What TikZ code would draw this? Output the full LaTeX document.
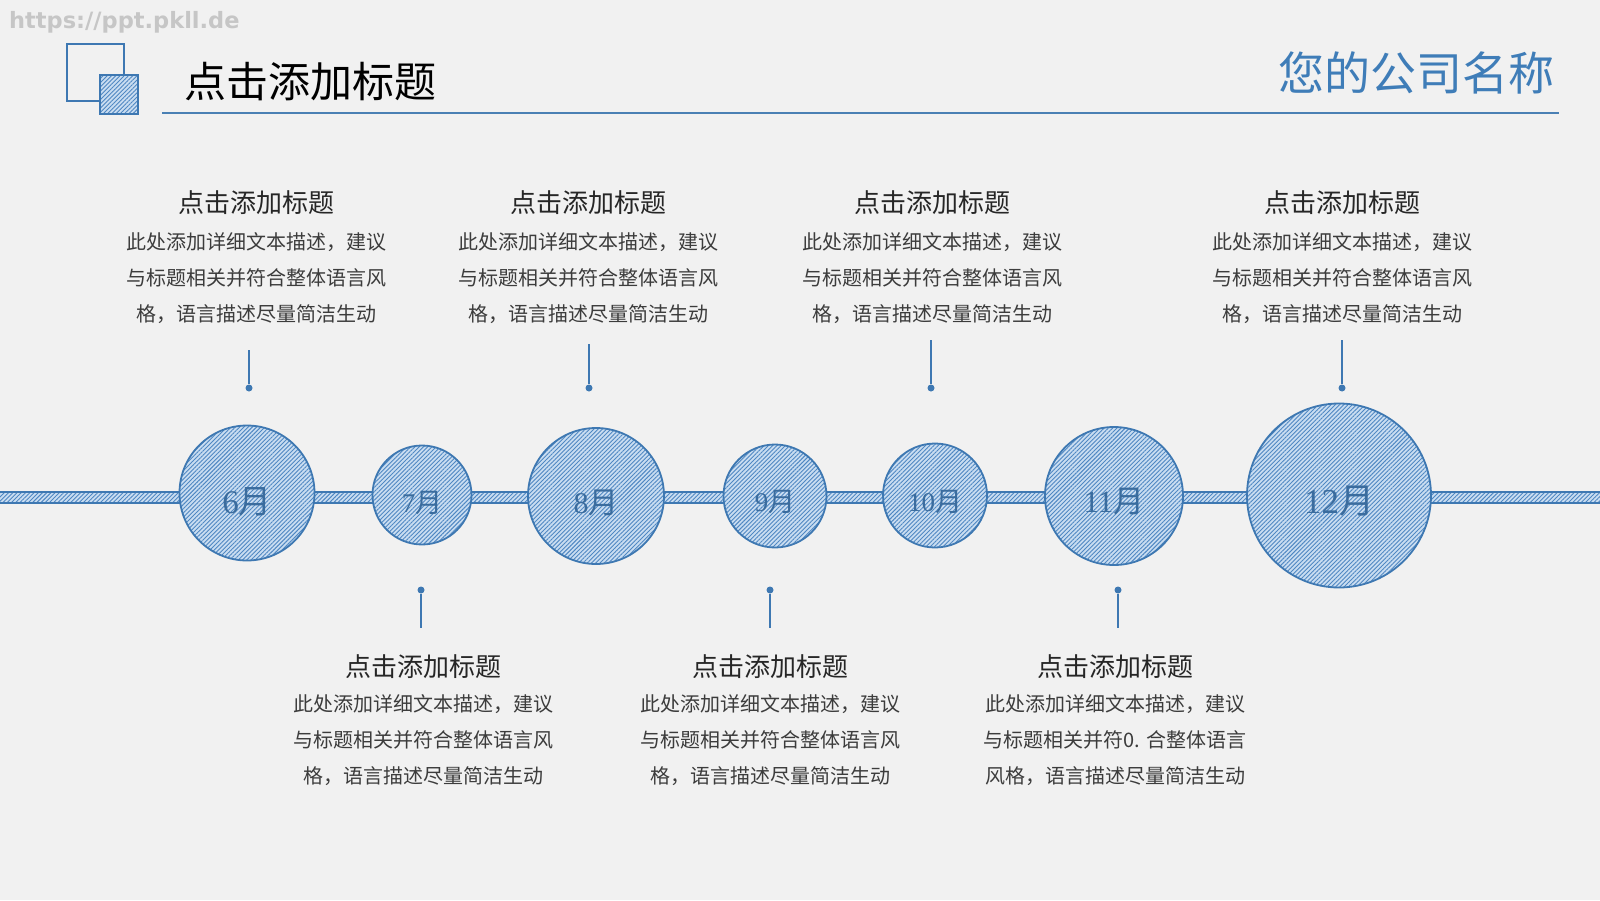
\documentclass[tikz,border=0pt]{standalone}
\usepackage{fontspec}
\setmainfont{Noto Sans CJK SC}
\newfontfamily\wmfont{DejaVu Sans}
\newfontfamily\digitfont{Liberation Serif}
\usetikzlibrary{patterns.meta}
\definecolor{bg}{HTML}{F1F1F1}
\definecolor{mblue}{HTML}{3E78B2}
\definecolor{lblue}{HTML}{C9DDF1}
\definecolor{hblue}{HTML}{4F87C2}
\definecolor{mtext}{HTML}{3A6C9E}
\definecolor{ttext}{HTML}{262626}
\definecolor{btext}{HTML}{3C3C3C}
\definecolor{compblue}{HTML}{3F7DB8}
\definecolor{lineblue}{HTML}{4A80B4}
\definecolor{wmgray}{HTML}{C6C6C6}
\tikzset{
  hatch/.style={draw=mblue, line width=1.8pt, preaction={fill=lblue},
    pattern={Lines[angle=45,distance=3pt,line width=0.9pt]}, pattern color=hblue},
  monthc/.style={circle, hatch, minimum size=#1, inner sep=0pt},
  mlabel/.style={text=mtext, font=\fontsize{#1}{#1}\selectfont, inner sep=0pt},
  dotn/.style={circle, fill=mblue, inner sep=0pt, minimum size=7pt},
  conn/.style={draw=mblue, line width=1.5pt},
  btitle/.style={anchor=base, font=\fontsize{26}{26}\selectfont, text=ttext, inner sep=0pt},
  bline/.style={anchor=base, font=\fontsize{20}{20}\selectfont, text=btext, inner sep=0pt},
}
\newcommand\infoblock[6]{%
  \node[btitle] (#1-t) at (#2,#3+10) {点击添加标题};
  \node[bline] (#1-a) at (#2,#4+7.6) {此处添加详细文本描述，建议};
  \node[bline] (#1-b) at (#2,#4+43.3) {#5};
  \node[bline] (#1-c) at (#2,#4+79) {#6};
}
\newcommand\mon[1]{{\digitfont #1}月}
\begin{document}
\begin{tikzpicture}[x=1pt,y=-1pt]
\useasboundingbox (0,0) rectangle (1600,900);
\fill[bg] (0,0) rectangle (1600,900);
% watermark
\node[anchor=base west, font=\wmfont\bfseries\fontsize{22.5}{22.5}\selectfont, text=wmgray, inner sep=0pt] (wm) at (9,28) {https://ppt.pkll.de};
% header
\draw[draw=mblue, line width=1.3pt] (67,44) rectangle (124,101);
\path[hatch, line width=1.3pt] (100,75) rectangle (138,114);
\node[anchor=base west, font=\fontsize{42}{42}\selectfont, text=black, inner sep=0pt] (title) at (184,97) {点击添加标题};
\node[anchor=base east, font=\fontsize{46}{46}\selectfont, text=compblue, inner sep=0pt] (company) at (1555,90) {您的公司名称};
\coordinate (hl) at (162,113);
\coordinate (hr) at (1559,113);
\draw[draw=lineblue, line width=2pt] (hl) -- (hr);
% bar
\path[hatch, line width=1.5pt] (-3,492) rectangle (1603,503);
% circles
\node[monthc=135pt, label={[mlabel=33, yshift=-9pt]center:\mon{6}}] (c6) at (247,493) {};
\node[monthc=99pt, label={[mlabel=27, yshift=-8pt]center:\mon{7}}] (c7) at (422,495) {};
\node[monthc=136pt, label={[mlabel=30, yshift=-7pt]center:\mon{8}}] (c8) at (596,496) {};
\node[monthc=103pt, label={[mlabel=27, yshift=-6pt]center:\mon{9}}] (c9) at (775,496) {};
\node[monthc=104pt, label={[mlabel=27, yshift=-6pt]center:\mon{10}}] (c10) at (935,495.5) {};
\node[monthc=138pt, label={[mlabel=31, yshift=-6pt]center:\mon{11}}] (c11) at (1114,496) {};
\node[monthc=184pt, label={[mlabel=35, yshift=-6pt]center:\mon{12}}] (c12) at (1339,495.5) {};
% connectors top
\node[dotn] (d6) at (249,388) {};
\node[dotn] (d8) at (589,388) {};
\node[dotn] (d10) at (931,388) {};
\node[dotn] (d12) at (1342,388) {};
\coordinate (e6) at (249,350);
\coordinate (e8) at (589,344);
\coordinate (e10) at (931,340);
\coordinate (e12) at (1342,340);
\draw[conn] (e6) -- (d6);
\draw[conn] (e8) -- (d8);
\draw[conn] (e10) -- (d10);
\draw[conn] (e12) -- (d12);
% connectors bottom
\node[dotn] (d7) at (421,590) {};
\node[dotn] (d9) at (770,590) {};
\node[dotn] (d11) at (1118,590) {};
\coordinate (e7) at (421,628);
\coordinate (e9) at (770,628);
\coordinate (e11) at (1118,628);
\draw[conn] (d7) -- (e7);
\draw[conn] (d9) -- (e9);
\draw[conn] (d11) -- (e11);
% text blocks
\infoblock{t1}{256.5}{202}{242}{与标题相关并符合整体语言风}{格，语言描述尽量简洁生动}
\infoblock{t2}{588.5}{202}{242}{与标题相关并符合整体语言风}{格，语言描述尽量简洁生动}
\infoblock{t3}{932}{202}{242}{与标题相关并符合整体语言风}{格，语言描述尽量简洁生动}
\infoblock{t4}{1342.5}{202}{242}{与标题相关并符合整体语言风}{格，语言描述尽量简洁生动}
\infoblock{b1}{423.5}{666}{704}{与标题相关并符合整体语言风}{格，语言描述尽量简洁生动}
\infoblock{b2}{770.5}{666}{704}{与标题相关并符合整体语言风}{格，语言描述尽量简洁生动}
\infoblock{b3}{1115}{666}{704}{与标题相关并符0. 合整体语言}{风格，语言描述尽量简洁生动}
\end{tikzpicture}
\end{document}
